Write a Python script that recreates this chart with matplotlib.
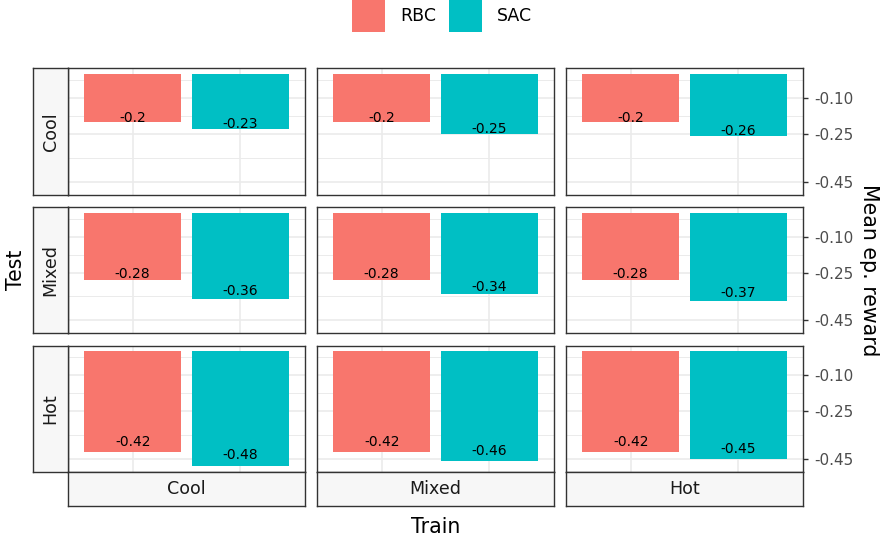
import matplotlib
matplotlib.use("Agg")
import matplotlib.pyplot as plt
from matplotlib.patches import Patch

# ---------------- data ----------------
test_levels = ["Cool", "Mixed", "Hot"]      # facet rows (Test)
train_levels = ["Cool", "Mixed", "Hot"]     # facet columns (Train)
methods = ["RBC", "SAC"]
rbc_reward = [[-0.20, -0.20, -0.20],
              [-0.28, -0.28, -0.28],
              [-0.42, -0.42, -0.42]]
sac_reward = [[-0.23, -0.25, -0.26],
              [-0.36, -0.34, -0.37],
              [-0.48, -0.46, -0.45]]
y_major = [-0.10, -0.25, -0.45]
y_major_labels = ["-0.10", "-0.25", "-0.45"]
y_minor = [-0.025, -0.175, -0.35]

# ---------------- style ----------------
W, H = 886, 541
colors = {"RBC": "#F8766D", "SAC": "#00BFC4"}
grid_col = "#EBEBEB"
border_col = "#333333"
strip_fill = "#F7F7F7"

fig = plt.figure(figsize=(W / 100, H / 100), dpi=100)
plt.rcParams["font.family"] = ["DejaVu Sans"]


def rect(x0, y0, x1, y1):
    return [x0 / W, 1 - y1 / H, (x1 - x0) / W, (y1 - y0) / H]


col_x = [(68, 305), (317, 554), (566, 803)]
row_y = [(68.3, 194.7), (207.0, 333.3), (345.7, 471.7)]
strip_left = (33.3, 68)
strip_bottom = (471.7, 506)

all_vals = [v for r in rbc_reward + sac_reward for v in r]
ymin, ymax = min(all_vals + [0]), max(all_vals + [0])
span = ymax - ymin
ylim = (ymin - 0.05 * span, ymax + 0.05 * span)

xs = [1, 2]
for i, test in enumerate(test_levels):
    for j, train in enumerate(train_levels):
        ax = fig.add_axes(rect(col_x[j][0], row_y[i][0], col_x[j][1], row_y[i][1]))
        ax.set_xlim(0.4, 2.6)
        ax.set_ylim(*ylim)
        for yv in y_minor:
            ax.axhline(yv, color=grid_col, lw=0.7, zorder=0)
        for yv in y_major:
            ax.axhline(yv, color=grid_col, lw=1.2, zorder=0)
        for xv in xs:
            ax.axvline(xv, color=grid_col, lw=1.2, zorder=0)
        vals = [rbc_reward[i][j], sac_reward[i][j]]
        ax.bar(xs, vals, width=0.9, color=[colors[m] for m in methods], zorder=2)
        for xv, v in zip(xs, vals):
            ax.text(xv, 0.9 * v - 0.02, f"{v:g}", ha="center", va="baseline",
                    fontsize=10, color="black", zorder=3)
        ax.set_xticks([])
        for sp in ax.spines.values():
            sp.set_color(border_col)
            sp.set_linewidth(1.0)
        if j == len(train_levels) - 1:
            ax.yaxis.tick_right()
            ax.set_yticks(y_major)
            ax.set_yticklabels(y_major_labels)
            ax.tick_params(axis="y", length=3.6, width=1.0, color=border_col,
                           labelsize=11, labelcolor="#4D4D4D", pad=4.8)
        else:
            ax.set_yticks([])
        ax.set_facecolor("white")

# left strips (Test)
for i, test in enumerate(test_levels):
    sax = fig.add_axes(rect(strip_left[0], row_y[i][0], strip_left[1], row_y[i][1]))
    sax.set_facecolor(strip_fill)
    sax.set_xticks([]); sax.set_yticks([])
    for sp in sax.spines.values():
        sp.set_color(border_col); sp.set_linewidth(1.0)
    sax.text(0.5, 0.5, test, rotation=90, ha="center", va="center",
             fontsize=12.6, color="#1A1A1A", transform=sax.transAxes)

# bottom strips (Train)
for j, train in enumerate(train_levels):
    sax = fig.add_axes(rect(col_x[j][0], strip_bottom[0], col_x[j][1], strip_bottom[1]))
    sax.set_facecolor(strip_fill)
    sax.set_xticks([]); sax.set_yticks([])
    for sp in sax.spines.values():
        sp.set_color(border_col); sp.set_linewidth(1.0)
    sax.text(0.5, 0.5, train, ha="center", va="center",
             fontsize=12.6, color="#1A1A1A", transform=sax.transAxes)

# axis titles
fig.text(436 / W, 1 - 527 / H, "Train", ha="center", va="center", fontsize=14.8)
fig.text(15.5 / W, 1 - 270 / H, "Test", ha="center", va="center", rotation=90, fontsize=14.8)
fig.text(869 / W, 1 - 270 / H, "Mean ep. reward", ha="center", va="center",
         rotation=-90, fontsize=14.8)

# legend
handles = [Patch(facecolor=colors[m], edgecolor="none", label=m) for m in methods]
fig.legend(handles=handles, loc="center", bbox_to_anchor=(442 / W, 1 - 16 / H),
           ncol=2, frameon=False, fontsize=12.5, handlelength=1.9, handleheight=2.45,
           handletextpad=0.86, columnspacing=0.75, borderpad=0, borderaxespad=0)

fig.savefig("out.png", dpi=100)
